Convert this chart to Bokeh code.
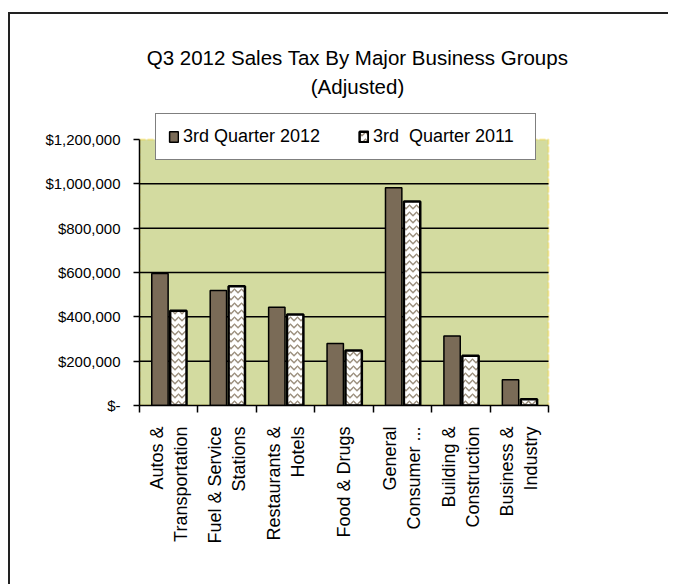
import math
import numpy as np
from bokeh.plotting import figure
from bokeh.models import (ColumnDataSource, FixedTicker, NumeralTickFormatter,
                          Legend, LegendItem, Label, Range1d, BoxAnnotation)
from bokeh.transform import dodge
from bokeh.embed import file_html
from bokeh.resources import INLINE

# ---- data ----
categories = ["Autos &\nTransportation", "Fuel & Service\nStations", "Restaurants &\nHotels",
              "Food & Drugs", "General\nConsumer ...", "Building &\nConstruction",
              "Business &\nIndustry"]
q3_2012 = [595000, 519000, 443000, 280000, 982000, 313000, 116000]
q3_2011 = [428000, 538000, 410000, 248000, 920000, 225000, 28000]
series_names = ["3rd Quarter 2012", "3rd  Quarter 2011"]
y_ticks = [0, 200000, 400000, 600000, 800000, 1000000, 1200000]
title_lines = ["Q3 2012 Sales Tax By Major Business Groups", "(Adjusted)"]

n = len(categories)
centers = list(np.arange(n) + 0.5)
bounds = list(np.arange(n + 1).astype(float))
y_top = y_ticks[-1]

src = ColumnDataSource(dict(x=centers, q12=q3_2012, q11=q3_2011))
grid_src = ColumnDataSource(dict(y=y_ticks[1:-1]))

FONT = "Liberation Sans"

# the frame also holds the title and legend; the value area is 266px tall, 409px wide
y_end = y_top * 385.0 / 266.0
x_end = n * 461.0 / 409.0

p = figure(width=660, height=572, x_range=Range1d(0, x_end), y_range=Range1d(0, y_end),
           output_backend="svg", toolbar_location=None,
           min_border_left=129, min_border_right=70, min_border_top=6, min_border_bottom=181)
p.styles = {"margin-top": "12px", "margin-left": "8px",
            "border-left": "2px solid #222", "border-top": "2px solid #222"}

p.background_fill_color = "white"
p.border_fill_color = "white"
p.outline_line_color = None
p.grid.visible = False

# plot area (value region) background and yellow border
plot_area = BoxAnnotation(left=0, right=n, bottom=0, top=y_top, level="image",
                          fill_color="#d3dba0", fill_alpha=1.0,
                          line_color="#ffcc00", line_width=2, line_dash="6 2")
p.add_layout(plot_area)

# horizontal gridlines across the value region only
p.segment(x0=0, x1=n, y0="y", y1="y", source=grid_src, line_color="black", line_width=1.5)

# y axis
p.yaxis.ticker = FixedTicker(ticks=y_ticks)
p.yaxis.bounds = (0, y_top)
p.yaxis.formatter = NumeralTickFormatter(format="$0,0")
p.yaxis.major_label_overrides = {0: "$-"}
p.yaxis.major_tick_out = 6
p.yaxis.major_tick_in = 0
p.yaxis.minor_tick_line_color = None
p.yaxis.axis_line_width = 1.5
p.yaxis.major_tick_line_width = 1.5
p.yaxis.axis_line_color = "black"
p.yaxis.major_label_text_font = FONT
p.yaxis.major_label_text_font_size = "15px"
p.yaxis.major_label_text_color = "black"
p.yaxis.major_label_standoff = 13

# x axis
p.xaxis.ticker = FixedTicker(ticks=centers, minor_ticks=bounds)
p.xaxis.bounds = (0, n)
p.xaxis.major_label_overrides = {float(c): lab for c, lab in zip(centers, categories)}
p.xaxis.major_tick_line_color = None
p.xaxis.major_tick_out = 0
p.xaxis.major_tick_in = 0
p.xaxis.minor_tick_out = 7
p.xaxis.minor_tick_in = 0
p.xaxis.minor_tick_line_color = "black"
p.xaxis.minor_tick_line_width = 1.5
p.xaxis.axis_line_width = 1.5
p.xaxis.axis_line_color = "black"
p.xaxis.major_label_orientation = math.pi / 2
p.xaxis.major_label_text_font = FONT
p.xaxis.major_label_text_font_size = "18px"
p.xaxis.major_label_text_color = "black"
p.xaxis.major_label_standoff = 14

# bars
r12 = p.vbar(x=dodge("x", -0.15, range=p.x_range), top="q12", width=0.28, source=src,
             fill_color="#7a6b57", line_color="black", line_width=1.5)
r11 = p.vbar(x=dodge("x", 0.165, range=p.x_range), top="q11", width=0.28, source=src,
             fill_color="white", line_color="black", line_width=2.5,
             hatch_pattern="horizontal_wave", hatch_color="#9b8f7d",
             hatch_scale=7, hatch_weight=1.5)

legend = Legend(items=[LegendItem(label=series_names[0], renderers=[r12]),
                       LegendItem(label=series_names[1], renderers=[r11])],
                orientation="horizontal", location=(16, 245),
                padding=12, spacing=25, label_width=150, label_standoff=4,
                glyph_width=11, glyph_height=13,
                label_text_font=FONT, label_text_font_size="18px", label_text_color="black",
                border_line_color="black", border_line_width=1.5,
                background_fill_color="white", background_fill_alpha=1.0)
p.add_layout(legend, "center")

for txt, yy in zip(title_lines, [348, 319]):
    p.add_layout(Label(x=218, y=yy, x_units="screen", y_units="screen", text=txt,
                       text_align="center", text_baseline="middle",
                       text_font=FONT, text_font_size="20.5px", text_color="black"))

open("out.html", "w").write(file_html(p, INLINE))
